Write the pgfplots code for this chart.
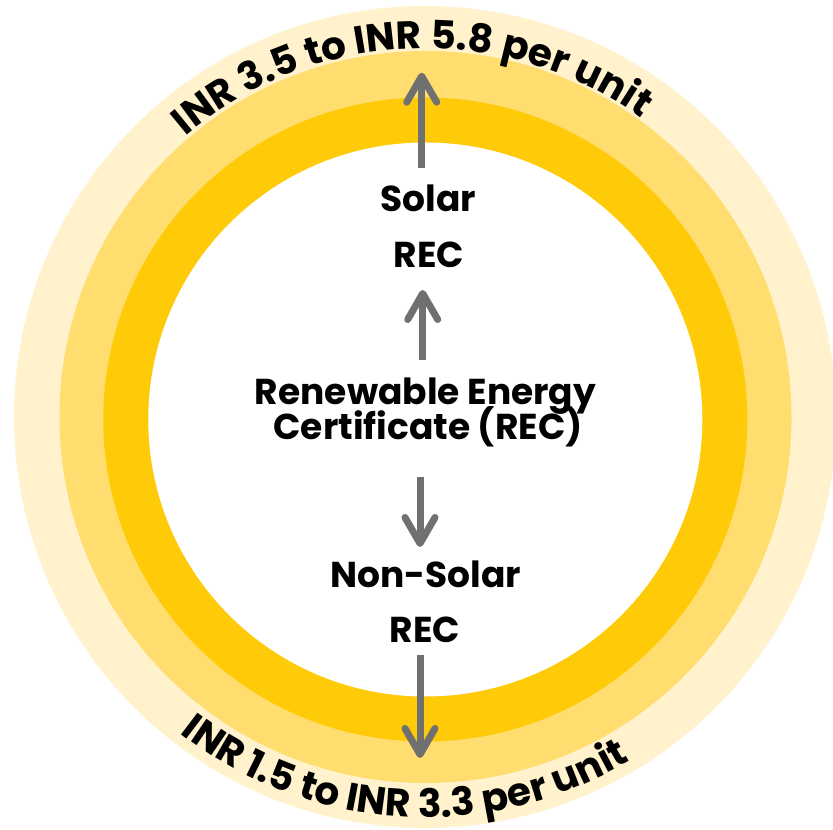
\documentclass[border=0pt]{standalone}
\usepackage{fontspec}
\setmainfont{Poppins}
\usepackage{pgfplots}
\pgfplotsset{compat=1.18}
\usetikzlibrary{decorations.text,arrows.meta}
\definecolor{ringpale}{RGB}{255,242,205}
\definecolor{ringmid}{RGB}{255,221,110}
\definecolor{ringgold}{RGB}{255,202,8}
\definecolor{arrowgray}{RGB}{112,112,112}
\newcommand\lbl{\fontsize{36bp}{40bp}\selectfont\bfseries}
\newcommand\arcfont{\fontsize{39bp}{44bp}\selectfont\bfseries}
\begin{document}
\begin{tikzpicture}
\begin{axis}[name=ax, scale only axis, width=833bp, height=830bp,
  xmin=0, xmax=833, ymin=0, ymax=830, hide axis, clip=true,
  arr/.style={draw=arrowgray, line width=7bp, mark=none,
    -{Straight Barb[length=26bp,width=30bp,round]}}]
\fill[ringpale] (axis cs:425,413) circle[radius=411bp];
\fill[ringmid] (axis cs:425.5,413) circle[radius=366bp];
\fill[ringgold] (axis cs:425.3,410.5) circle[radius=322bp];
\fill[white] (axis cs:425.3,410.5) circle[radius=277bp];
% arrows
\addplot[arr] coordinates {(421.7,662) (421.7,757.3)};
\addplot[arr] coordinates {(422.7,470) (422.7,540)};
\addplot[arr] coordinates {(420,353.3) (420,283)};
\addplot[arr] coordinates {(420,175) (420,72)};
% labels
\node[anchor=base] at (axis cs:428.5,618.3) {\lbl Solar};
\node[anchor=base] at (axis cs:429,562.7) {\lbl REC};
\node[anchor=base] at (axis cs:425.5,425) {\lbl Renewable Energy};
\node[anchor=base] at (axis cs:428,390) {\lbl Certificate (REC)};
\node[anchor=base] at (axis cs:425.5,242.3) {\lbl Non-Solar};
\node[anchor=base] at (axis cs:425,187) {\lbl REC};
% curved texts
\path[decorate, decoration={text along path, text align=center,
  text={|\arcfont|INR 3.5 to INR 5.8 per unit}}]
  (axis cs:54.3,395.6) arc[start angle=182.3, end angle=2.3, radius=371bp];
\path[decorate, decoration={text along path, text align=center,
  text={|\arcfont|INR 1.5 to INR 3.3 per unit}}]
  (axis cs:27.7,434.8) arc[start angle=176.5, end angle=356.5, radius=398bp];
\end{axis}
\pgfresetboundingbox
\useasboundingbox (ax.south west) rectangle (ax.north east);
\end{tikzpicture}
\end{document}
